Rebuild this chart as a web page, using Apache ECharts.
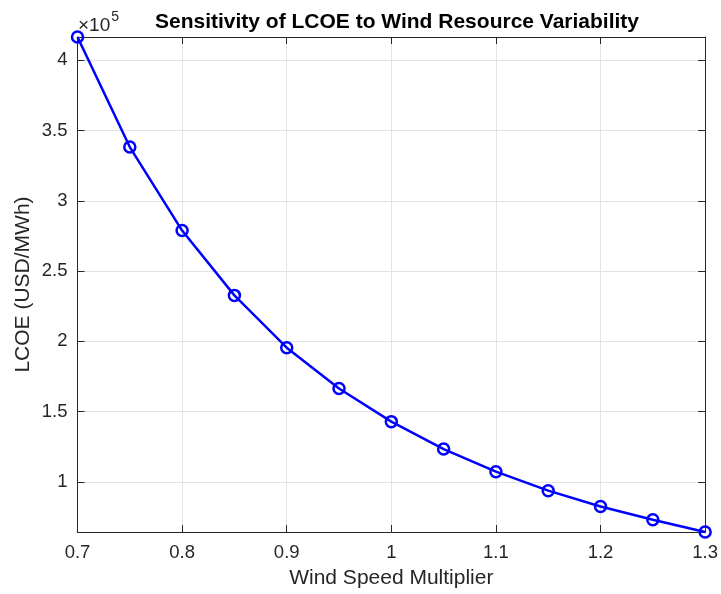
<!DOCTYPE html>
<html>
<head>
<meta charset="utf-8">
<script src="https://cdn.jsdelivr.net/npm/echarts@6/dist/echarts.min.js"></script>
<style>html,body{margin:0;padding:0;background:#fff;}#c{width:721px;height:594px;}</style>
</head>
<body>
<div id="c"></div>
<script>
const windMultiplier = [0.70, 0.75, 0.80, 0.85, 0.90, 0.95, 1.00, 1.05, 1.10, 1.15, 1.20, 1.25, 1.30];
const lcoe = [416500, 338200, 278800, 232700, 195500, 166500, 142900, 123400, 107300, 93800, 82500, 73100, 64400];
const xTicks = [0.7, 0.8, 0.9, 1.0, 1.1, 1.2, 1.3];
const yTickLabels = ['1', '1.5', '2', '2.5', '3', '3.5', '4'];

const yMin = Math.min(...lcoe), yMax = Math.max(...lcoe);
const FONT = 'Liberation Sans, Arial, Helvetica, sans-serif';
const AX = '#262626';
const GRID = '#e3e3e3';

const chart = echarts.init(document.getElementById('c'), null, {renderer: 'canvas'});
const yFmt = v => (Math.abs(v / 50000 - Math.round(v / 50000)) < 1e-6) ? String(+(v / 1e5).toFixed(1)) : '';
chart.setOption({
  animation: false,
  backgroundColor: '#ffffff',
  title: {
    text: 'Sensitivity of LCOE to Wind Resource Variability',
    left: 392, top: 7, textAlign: 'center',
    textStyle: {fontFamily: FONT, fontSize: 21, fontWeight: 'bold', color: '#000'}
  },
  graphic: [{
    type: 'text', left: 78, top: 10,
    style: {
      text: '{a|×10}{b|5}',
      rich: {
        a: {fontFamily: FONT, fontSize: 19, fill: AX, color: AX, verticalAlign: 'bottom', padding: [6, 0, 0, 0]},
        b: {fontFamily: FONT, fontSize: 14, fill: AX, color: AX, verticalAlign: 'top', padding: [0, 0, 8, 1]}
      }
    }
  }],
  grid: {left: 77.5, right: 13, top: 37, bottom: 59.5, containLabel: false},
  xAxis: [{
    type: 'value', min: 0.7, max: 1.3, interval: 0.1,
    name: 'Wind Speed Multiplier', nameLocation: 'middle', nameGap: 36, nameMoveOverlap: false,
    nameTextStyle: {fontFamily: FONT, fontSize: 21, color: AX},
    axisLine: {show: true, onZero: false, lineStyle: {color: AX, width: 1}},
    axisTick: {show: true, inside: true, length: 7, lineStyle: {color: AX}},
    axisLabel: {fontFamily: FONT, fontSize: 18.5, color: AX, margin: 11,
      formatter: v => String(+v.toFixed(1))},
    splitLine: {show: true, lineStyle: {color: GRID, width: 1}}
  }, {
    type: 'value', position: 'top', min: 0.7, max: 1.3, interval: 0.1,
    axisLine: {show: true, onZero: false, lineStyle: {color: AX, width: 1}},
    axisTick: {show: true, inside: true, length: 7, lineStyle: {color: AX}},
    axisLabel: {show: false}, splitLine: {show: false}
  }],
  yAxis: [{
    type: 'value', min: yMin, max: yMax, splitNumber: 7,
    name: 'LCOE (USD/MWh)', nameLocation: 'middle', nameGap: 44, nameRotate: 90, nameMoveOverlap: false,
    nameTextStyle: {fontFamily: FONT, fontSize: 21, color: AX},
    axisLine: {show: true, onZero: false, lineStyle: {color: AX, width: 1}},
    axisTick: {show: true, inside: true, length: 7, lineStyle: {color: AX}},
    axisLabel: {fontFamily: FONT, fontSize: 18.5, color: AX, margin: 10, formatter: yFmt,
      showMinLabel: false, showMaxLabel: false},
    splitLine: {show: true, lineStyle: {color: GRID, width: 1}}
  }, {
    type: 'value', position: 'right', min: yMin, max: yMax, splitNumber: 7,
    axisLine: {show: true, onZero: false, lineStyle: {color: AX, width: 1}},
    axisTick: {show: true, inside: true, length: 7, lineStyle: {color: AX}},
    axisLabel: {show: false}, splitLine: {show: false}
  }],
  series: [{
    type: 'line',
    data: windMultiplier.map((x, i) => [x, lcoe[i]]),
    xAxisIndex: 0, yAxisIndex: 0,
    symbol: 'circle', symbolSize: 11,
    showAllSymbol: true,
    lineStyle: {color: '#0000ff', width: 2.5},
    itemStyle: {color: 'rgba(0,0,0,0)', borderColor: '#0000ff', borderWidth: 2.5},
    clip: false
  }]
});
</script>
</body>
</html>
